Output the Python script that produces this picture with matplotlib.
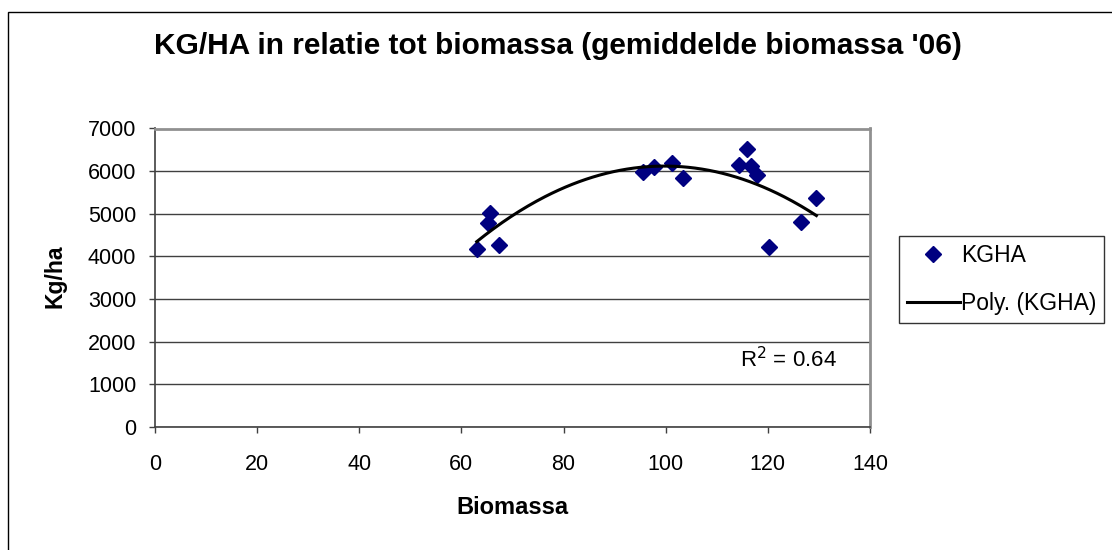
import numpy as np
import matplotlib.pyplot as plt
from matplotlib.patches import Rectangle
from matplotlib.lines import Line2D

plt.rcParams['font.family'] = ['Liberation Sans', 'DejaVu Sans']

# biomassa en opbrengst (kg/ha)
biomassa = [63.0, 65.6, 65.2, 67.3, 95.6, 97.8, 101.2, 103.4,
            114.4, 116.0, 116.7, 117.9, 120.3, 126.5, 129.5]
kgha = [4165, 5020, 4790, 4265, 5970, 6100, 6180, 5830,
        6140, 6520, 6120, 5910, 4225, 4800, 5360]

xticks = [0, 20, 40, 60, 80, 100, 120, 140]
yticks = [0, 1000, 2000, 3000, 4000, 5000, 6000, 7000]

# polynoom 2e graad, zoals de trendlijn in excel
p = np.polyfit(biomassa, kgha, 2)
xs = np.linspace(min(biomassa), max(biomassa), 200)
ys = np.polyval(p, xs)

fig = plt.figure(figsize=(11.12, 5.5), dpi=100)
ax = fig.add_axes([155/1112, 1-427/550, (870-155)/1112, (427-128.5)/550])

ax.grid(True, axis='y', color='#404040', lw=1)
ax.set_axisbelow(True)
ax.plot(biomassa, kgha, 'D', color='#000080', ms=8.5, ls='none', zorder=3)
ax.plot(xs, ys, color='k', lw=2.2, zorder=4)

ax.set_xlim(0, 140)
ax.set_ylim(0, 7000)
ax.set_xticks(xticks)
ax.set_yticks(yticks)
ax.tick_params(labelsize=15.5, length=4.5, width=1, color='#404040')
ax.tick_params(axis='x', pad=15)
ax.tick_params(axis='y', pad=9)

for s in ['top', 'right']:
    ax.spines[s].set_color('#909090')
    ax.spines[s].set_linewidth(2)
for s in ['left', 'bottom']:
    ax.spines[s].set_color('#404040')
    ax.spines[s].set_linewidth(1.2)

ax.set_xlabel('Biomassa', fontsize=17, fontweight='bold')
ax.set_ylabel('Kg/ha', fontsize=16.5, fontweight='bold')
ax.xaxis.set_label_coords(512/1112, 1-508/550, transform=fig.transFigure)
ax.yaxis.set_label_coords(55/1112, 1-276/550, transform=fig.transFigure)
ax.xaxis.label.set_va('center')
ax.yaxis.label.set_va('center')

ax.text(837/1112, 1-360/550, r'R$^2$ = 0.64', transform=fig.transFigure,
        fontsize=16, ha='right', va='center')

fig.text(558/1112, 1-46/550, "KG/HA in relatie tot biomassa (gemiddelde biomassa '06)",
         fontsize=21.5, fontweight='bold', ha='center', va='center')

# rand van de grafiek
fig.patches.append(Rectangle((8/1112, -0.1), 1.2, 1-12/550+0.1,
                             transform=fig.transFigure, fill=False,
                             ec='k', lw=1))

h1 = Line2D([], [], marker='D', color='#000080', ms=8.5, ls='none')
h2 = Line2D([], [], color='k', lw=2.2)
leg = fig.legend([h1, h2], ['KGHA', 'Poly. (KGHA)'], loc='upper left',
                 bbox_to_anchor=(899/1112, 1-236/550), fontsize=16.5,
                 frameon=True, fancybox=False, handlelength=2.3,
                 handletextpad=0.05, borderpad=0.35, labelspacing=1.1,
                 borderaxespad=0)
leg.get_frame().set_edgecolor('k')
leg.get_frame().set_linewidth(1)

fig.savefig('out.png', dpi=100)
